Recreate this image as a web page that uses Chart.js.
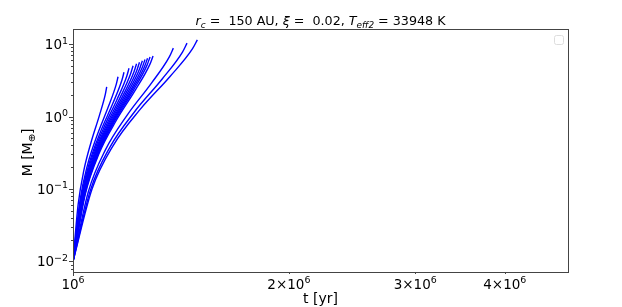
<!DOCTYPE html>
<html>
<head>
<meta charset="utf-8">
<script src="https://cdn.jsdelivr.net/npm/chart.js@4"></script>
<style>
html, body { margin: 0; padding: 0; background: #fff; }
</style>
</head>
<body>
<canvas id="myChart" width="622" height="307"></canvas>
<script>
// time [yr] of each growth track
const timeYr = [
    [1e6, 1.0167e6, 1.0356e6, 1.0602e6, 1.0883e6, 1.1095e6, 1.1143e6],
    [1e6, 1.0224e6, 1.0478e6, 1.0812e6, 1.1197e6, 1.1489e6, 1.1556e6],
    [1e6, 1.0254e6, 1.0543e6, 1.0924e6, 1.1366e6, 1.1702e6, 1.1779e6],
    [1e6, 1.0279e6, 1.0598e6, 1.1020e6, 1.1510e6, 1.1884e6, 1.1970e6],
    [1e6, 1.0299e6, 1.0642e6, 1.1097e6, 1.1627e6, 1.2032e6, 1.2126e6],
    [1e6, 1.0317e6, 1.0681e6, 1.1165e6, 1.1730e6, 1.2164e6, 1.2263e6],
    [1e6, 1.0332e6, 1.0714e6, 1.1222e6, 1.1817e6, 1.2274e6, 1.2379e6],
    [1e6, 1.0347e6, 1.0746e6, 1.1278e6, 1.1902e6, 1.2383e6, 1.2494e6],
    [1e6, 1.0360e6, 1.0775e6, 1.1330e6, 1.1982e6, 1.2485e6, 1.2601e6],
    [1e6, 1.0373e6, 1.0803e6, 1.1379e6, 1.2057e6, 1.2582e6, 1.2703e6],
    [1e6, 1.0386e6, 1.0832e6, 1.1429e6, 1.2134e6, 1.2679e6, 1.2806e6],
    [1e6, 1.0401e6, 1.0865e6, 1.1489e6, 1.2226e6, 1.2798e6, 1.2930e6],
    [1e6, 1.0505e6, 1.1097e6, 1.1900e6, 1.2865e6, 1.3624e6, 1.3801e6],
    [1e6, 1.0576e6, 1.1255e6, 1.2186e6, 1.3315e6, 1.4212e6, 1.4421e6],
    [1e6, 1.0630e6, 1.1376e6, 1.2406e6, 1.3665e6, 1.4671e6, 1.4907e6]
];

// mass [M_earth] at those times
const massEarth = [
    [0.01, 0.0613, 0.182, 0.449, 1.033, 2.042, 2.564],
    [0.01, 0.0682, 0.2157, 0.5614, 1.355, 2.789, 3.548],
    [0.01, 0.0715, 0.2323, 0.6192, 1.526, 3.198, 4.093],
    [0.01, 0.0746, 0.2485, 0.6765, 1.700, 3.619, 4.656],
    [0.01, 0.0765, 0.2589, 0.7138, 1.815, 3.901, 5.035],
    [0.01, 0.0781, 0.2678, 0.7461, 1.916, 4.150, 5.370],
    [0.01, 0.0794, 0.2746, 0.7713, 1.995, 4.347, 5.636],
    [0.01, 0.0806, 0.2815, 0.7966, 2.075, 4.549, 5.909],
    [0.01, 0.0816, 0.2872, 0.8177, 2.142, 4.717, 6.138],
    [0.01, 0.0827, 0.2935, 0.8412, 2.217, 4.909, 6.397],
    [0.01, 0.0838, 0.2995, 0.8641, 2.291, 5.096, 6.653],
    [0.01, 0.0847, 0.3046, 0.8835, 2.354, 5.256, 6.871],
    [0.01, 0.0918, 0.3469, 1.048, 2.897, 6.672, 8.811],
    [0.01, 0.0967, 0.3770, 1.169, 3.309, 7.770, 10.33],
    [0.01, 0.1001, 0.3984, 1.257, 3.615, 8.601, 11.48]
];

// tick labels as [base, exponent]
const xTickValues = [1e6, 2e6, 3e6, 4e6];
const xTickLabels = [['10', '6'], ['2×10', '6'], ['3×10', '6'], ['4×10', '6']];
const yTickValues = [0.01, 0.1, 1, 10];
const yTickLabels = [['10', '−2'], ['10', '−1'], ['10', '0'], ['10', '1']];

const FONT = '"DejaVu Sans", sans-serif';

function isPow10(v) {
    const l = Math.log10(v);
    return Math.abs(l - Math.round(l)) < 1e-9;
}

// draws text made of pieces: [text, italic, shift] (shift: 0 normal, -1 sub, 1 sup)
function drawRuns(ctx, runs, x, y, size, align) {
    const fontFor = (r) => (r[1] ? 'italic ' : '') + (r[2] ? size * 0.7 : size) + 'px ' + FONT;
    let w = 0;
    runs.forEach(r => { ctx.font = fontFor(r); w += ctx.measureText(r[0]).width; });
    if (align === 'center') x -= w / 2;
    else if (align === 'right') x -= w;
    runs.forEach(r => {
        ctx.font = fontFor(r);
        let dy = 0;
        if (r[2] === -1) dy = size * 0.22;
        if (r[2] === 1) dy = -size * 0.42;
        ctx.fillText(r[0], x, y + dy);
        x += ctx.measureText(r[0]).width;
    });
}

const decorations = {
    id: 'decorations',
    afterDraw(chart) {
        const ctx = chart.ctx;
        const a = chart.chartArea;
        const xs = chart.scales.x;
        const ys = chart.scales.y;
        ctx.save();
        ctx.strokeStyle = '#444';
        ctx.lineWidth = 1;
        ctx.strokeRect(Math.round(a.left) + 0.5, Math.round(a.top) + 0.5,
            Math.round(a.right - a.left), Math.round(a.bottom - a.top));

        ctx.beginPath();
        ys.ticks.forEach(t => {
            const y = Math.round(ys.getPixelForValue(t.value)) + 0.5;
            const len = isPow10(t.value) ? 4 : 2;
            ctx.moveTo(a.left - len, y);
            ctx.lineTo(a.left, y);
        });
        xs.ticks.forEach(t => {
            const x = Math.round(xs.getPixelForValue(t.value)) + 0.5;
            const len = isPow10(t.value) ? 4 : 2;
            ctx.moveTo(x, a.bottom);
            ctx.lineTo(x, a.bottom + len);
        });
        ctx.stroke();

        // empty legend frame
        ctx.strokeStyle = '#dddddd';
        ctx.beginPath();
        ctx.roundRect(554.5, 35.5, 9, 9, 2);
        ctx.stroke();

        ctx.fillStyle = '#000';
        ctx.textBaseline = 'alphabetic';

        // tick labels
        xTickValues.forEach((v, i) => {
            const lab = xTickLabels[i];
            drawRuns(ctx, [[lab[0], false, 0], [lab[1], false, 1]],
                xs.getPixelForValue(v), a.bottom + 17, 13.5, 'center');
        });
        yTickValues.forEach((v, i) => {
            const lab = yTickLabels[i];
            drawRuns(ctx, [[lab[0], false, 0], [lab[1], false, 1]],
                a.left - 5, ys.getPixelForValue(v) + 5, 13.5, 'right');
        });

        const cx = (a.left + a.right) / 2;
        drawRuns(ctx, [
            ['r', true, 0], ['c', true, -1], [' =  150 AU, ', false, 0],
            ['ξ', true, 0], [' =  0.02, ', false, 0],
            ['T', true, 0], ['eff2', true, -1], [' = 33948 K', false, 0]
        ], cx, 25, 12.7, 'center');

        drawRuns(ctx, [['t [yr]', false, 0]], cx, 303, 14, 'center');

        ctx.translate(32, (a.top + a.bottom) / 2 + 2);
        ctx.rotate(-Math.PI / 2);
        drawRuns(ctx, [['M [M', false, 0], ['⊕', false, -1], [']', false, 0]], 0, 0, 14, 'center');
        ctx.restore();
    }
};

const datasets = timeYr.map((times, i) => ({
    data: times.map((t, k) => ({ x: t, y: massEarth[i][k] })),
    showLine: true,
    borderColor: '#0000ff',
    borderWidth: 1.4,
    pointRadius: 0,
    fill: false,
    cubicInterpolationMode: 'monotone'
}));

new Chart(document.getElementById('myChart'), {
    type: 'scatter',
    data: { datasets: datasets },
    options: {
        responsive: false,
        animation: false,
        layout: { padding: { left: 0, right: 54, top: 29, bottom: 0 } },
        plugins: { legend: { display: false }, tooltip: { enabled: false } },
        scales: {
            x: {
                type: 'logarithmic',
                min: 1e6,
                max: 4.9e6,
                border: { display: false },
                grid: { display: false },
                afterBuildTicks: (scale) => { scale.ticks = xTickValues.map(v => ({ value: v })); },
                afterFit: (scale) => { scale.height = 35; },
                ticks: { display: false }
            },
            y: {
                type: 'logarithmic',
                min: 0.00716,
                max: 16.2,
                border: { display: false },
                grid: { display: false },
                afterBuildTicks: (scale) => {
                    const vals = [];
                    for (let e = -3; e <= 1; e++) {
                        for (let m = 1; m <= 9; m++) {
                            const v = m * Math.pow(10, e);
                            if (v >= scale.min && v <= scale.max) vals.push(v);
                        }
                    }
                    scale.ticks = vals.map(v => ({ value: v }));
                },
                afterFit: (scale) => { scale.width = 73; },
                ticks: { display: false }
            }
        }
    },
    plugins: [decorations]
});
</script>
</body>
</html>
